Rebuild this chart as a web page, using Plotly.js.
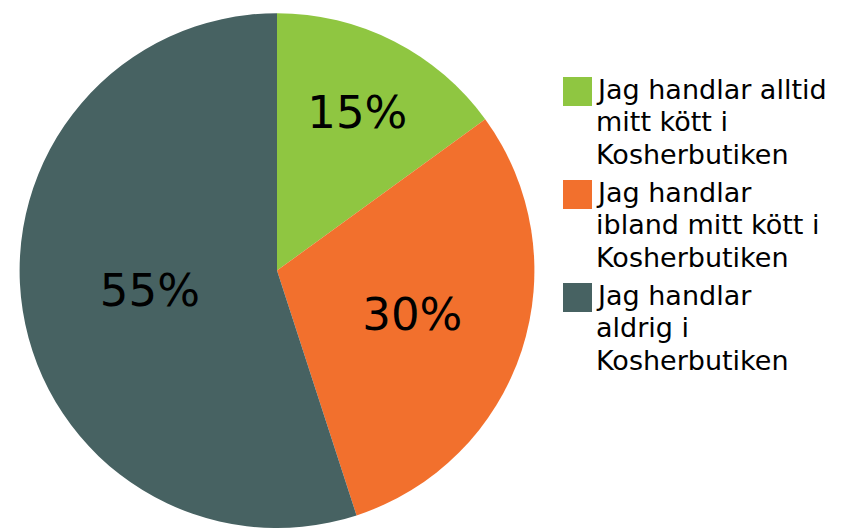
<!DOCTYPE html>
<html>
<head>
<meta charset="utf-8">
<script src="https://cdn.plot.ly/plotly-3.0.1.min.js"></script>
<style>html,body{margin:0;padding:0;background:#fff;}#chart{width:842px;height:528px;}</style>
</head>
<body>
<div id="chart"></div>
<script>
const categories = [
  "Jag handlar alltid<br>mitt kött i<br>Kosherbutiken",
  "Jag handlar<br>ibland mitt kött i<br>Kosherbutiken",
  "Jag handlar<br>aldrig i<br>Kosherbutiken"
];
const values = [15, 30, 55];
const colors = ["#8FC641", "#F2702D", "#476262"];

const W = 842, H = 528;
const px2x = x => x / W;
const px2y = y => 1 - y / H;

const FONT = "DejaVu Sans, Verdana, sans-serif";

const trace = {
  type: "pie",
  labels: categories.map(c => c.replace(/<br>/g, " ")),
  values: values,
  sort: false,
  direction: "clockwise",
  rotation: 0,
  marker: { colors: colors, line: { width: 0 } },
  textinfo: "percent",
  texttemplate: "%{percent:.0%}",
  textposition: "inside",
  insidetextorientation: "horizontal",
  insidetextfont: { family: FONT, size: 45, color: "#000000" },
  hoverinfo: "label+percent",
  showlegend: false,
  domain: { x: [px2x(18), px2x(536)], y: [0, 0.975] }
};

const shapes = [];
const annotations = [];
const legendX = 563, sq = 29, textX = 594;
const entryTop0 = 77, entryStep = 103, lineStep = 32.5;
categories.forEach((c, i) => {
  const top = entryTop0 + i * entryStep;
  shapes.push({
    type: "rect", xref: "paper", yref: "paper",
    x0: px2x(legendX), x1: px2x(legendX + sq),
    y0: px2y(top), y1: px2y(top + sq),
    fillcolor: colors[i], line: { width: 0 }
  });
  c.split("<br>").forEach((line, j) => {
    annotations.push({
      xref: "paper", yref: "paper",
      x: px2x(textX), y: px2y(top + 12 + j * lineStep),
      xanchor: "left", yanchor: "middle",
      text: line, showarrow: false, align: "left",
      font: { family: FONT, size: 27, color: "#000000" }
    });
  });
});

const layout = {
  width: W, height: H,
  margin: { l: 0, r: 0, t: 0, b: 0 },
  paper_bgcolor: "#ffffff",
  plot_bgcolor: "#ffffff",
  showlegend: false,
  shapes: shapes,
  annotations: annotations
};

Plotly.newPlot("chart", [trace], layout, { displayModeBar: false, staticPlot: true });
</script>
</body>
</html>
